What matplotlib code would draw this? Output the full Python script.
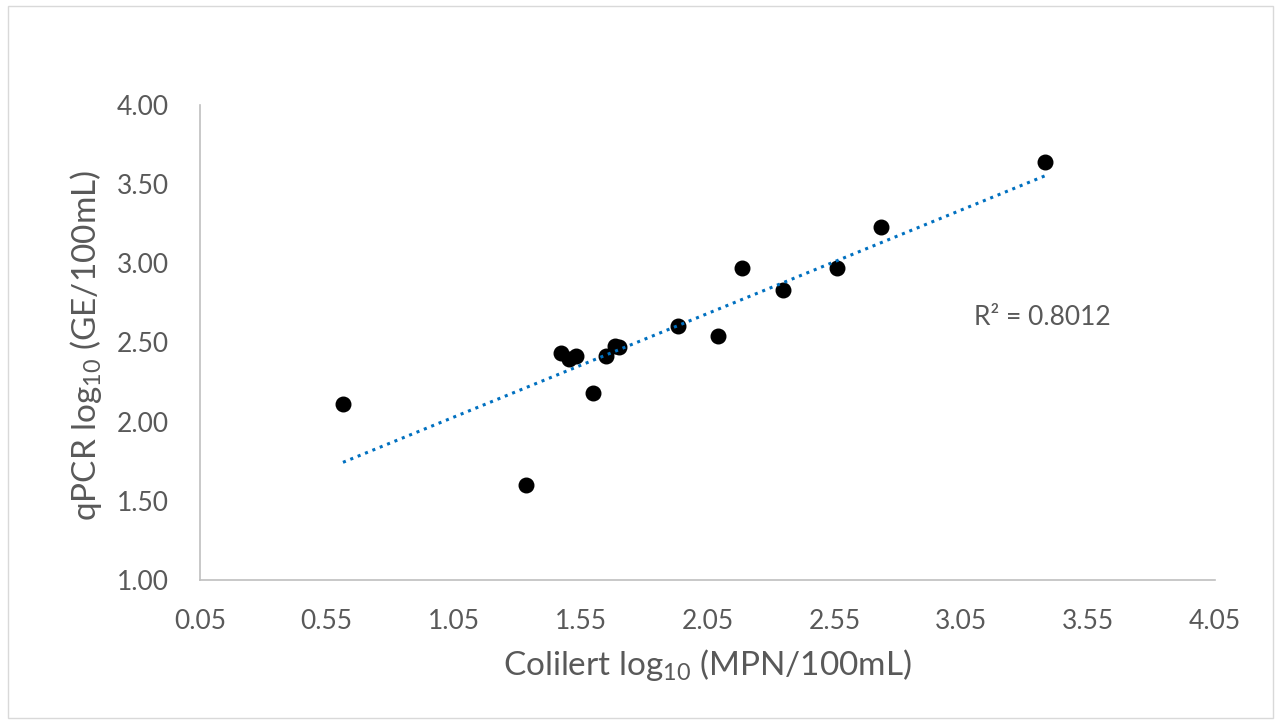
import matplotlib
matplotlib.use("Agg")
import matplotlib.pyplot as plt
import numpy as np
from matplotlib.patches import Rectangle

# values
colilert = [0.614, 1.334, 1.473, 1.504, 1.532, 1.599, 1.650, 1.685,
            1.701, 1.934, 2.091, 2.186, 2.348, 2.560, 2.734, 3.380]
qpcr = [2.112, 1.600, 2.436, 2.396, 2.415, 2.183, 2.417, 2.478,
        2.474, 2.604, 2.541, 2.971, 2.832, 2.971, 3.229, 3.640]
x_ticks = [0.05, 0.55, 1.05, 1.55, 2.05, 2.55, 3.05, 3.55, 4.05]
y_ticks = [1.00, 1.50, 2.00, 2.50, 3.00, 3.50, 4.00]
r2_label = "R\u00b2 = 0.8012"

GREY = "#595959"


def main() -> None:
    plt.rcParams["font.family"] = ["Lato", "DejaVu Sans"]
    plt.rcParams["mathtext.default"] = "regular"

    fig = plt.figure(figsize=(12.81, 7.24), dpi=100)
    fig.patches.append(Rectangle((0.006, 0.008), 0.988, 0.984,
                                 transform=fig.transFigure, fill=False,
                                 edgecolor="#D9D9D9", linewidth=1.0))
    ax = fig.add_axes([0.156, 0.199, 0.7925, 0.656])

    x = np.array(colilert)
    y = np.array(qpcr)
    slope, intercept = np.polyfit(x, y, 1)
    xs = np.array([x.min(), x.max()])
    ax.plot(xs, slope * xs + intercept, linestyle=(0, (1, 1.6)),
            color="#0070C0", linewidth=2.2, zorder=3)
    ax.scatter(x, y, s=110, color="black", zorder=2)

    ax.set_xlim(x_ticks[0], x_ticks[-1])
    ax.set_ylim(y_ticks[0], y_ticks[-1])
    ax.set_xticks(x_ticks)
    ax.set_xticklabels([f"{v:.2f}" for v in x_ticks])
    ax.set_yticks(y_ticks)
    ax.set_yticklabels([f"{v:.2f}" for v in y_ticks])
    ax.tick_params(axis="x", length=0, pad=21, labelsize=19, labelcolor=GREY)
    ax.tick_params(axis="y", length=0, pad=22, labelsize=19, labelcolor=GREY)

    for side in ("top", "right"):
        ax.spines[side].set_visible(False)
    for side in ("left", "bottom"):
        ax.spines[side].set_color("#BFBFBF")
        ax.spines[side].set_linewidth(1.2)

    fig.text(707 / 1281, 1 - 665 / 724, "Colilert log$_{10}$ (MPN/100mL)",
             fontsize=24, color=GREY, ha="center", va="center")
    fig.text(86 / 1281, 1 - 345 / 724, "qPCR log$_{10}$ (GE/100mL)",
             fontsize=24, color=GREY, ha="center", va="center",
             rotation=90)
    ax.text(3.10, 2.655, r2_label, fontsize=19, color=GREY,
            ha="left", va="center")

    fig.savefig("out.png", dpi=100)


if __name__ == "__main__":
    main()
